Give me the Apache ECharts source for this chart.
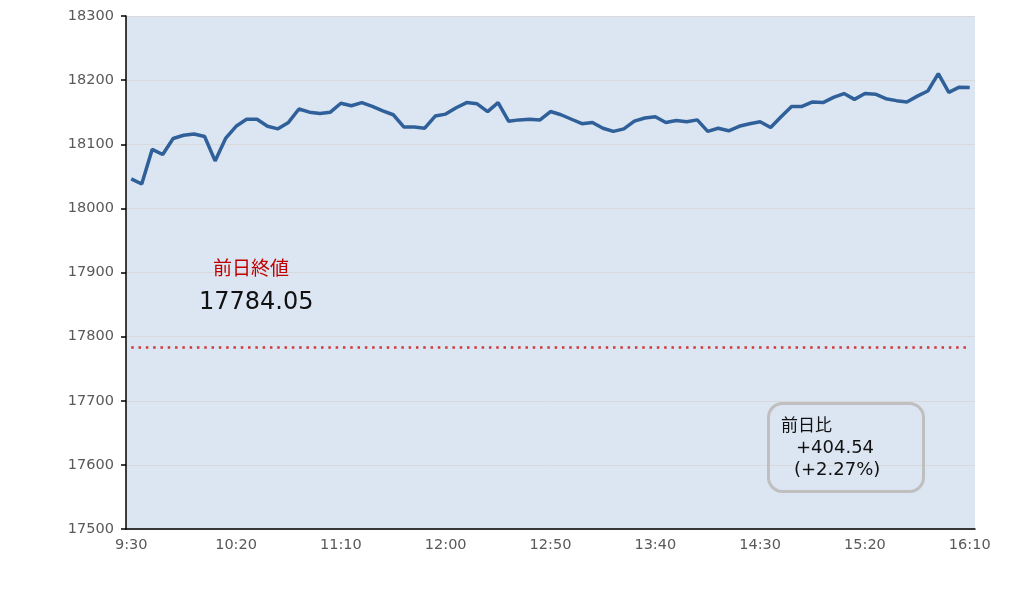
<!DOCTYPE html>
<html>
<head>
<meta charset="utf-8">
<script src="https://cdn.jsdelivr.net/npm/echarts@6/dist/echarts.min.js"></script>
<style>html,body{margin:0;padding:0;background:#fff;}#c{width:1036px;height:598px;}</style>
</head>
<body>
<div id="c"></div>
<script>
// 9:30 .. 16:10 every 5 minutes
var times = [];
for (var m = 9 * 60 + 30; m <= 16 * 60 + 10; m += 5) {
  times.push(Math.floor(m / 60) + ':' + ('0' + (m % 60)).slice(-2));
}
var prices = [
  18046, 18038, 18092, 18084, 18109, 18114, 18116, 18112, 18074, 18109,
  18128, 18139, 18139, 18128, 18124, 18134, 18155, 18150, 18148, 18150,
  18164, 18160, 18165, 18159, 18152, 18146, 18127, 18127, 18125, 18144,
  18147, 18157, 18165, 18163, 18151, 18165, 18136, 18138, 18139, 18138,
  18151, 18146, 18139, 18132, 18134, 18125, 18120, 18124, 18136, 18141,
  18143, 18134, 18137, 18135, 18138, 18120, 18125, 18121, 18128, 18132,
  18135, 18126, 18143, 18159, 18159, 18166, 18165, 18173, 18179, 18170,
  18179, 18178, 18171, 18168, 18166, 18175, 18183, 18210, 18181, 18189,
  18188.59
];
var prevClose = 17784.05;
var yTicks = [17500, 17600, 17700, 17800, 17900, 18000, 18100, 18200, 18300];
var change = '+404.54';
var changePct = '(+2.27%)';

var chart = echarts.init(document.getElementById('c'));
chart.setOption({
  animation: false,
  grid: { left: 126, right: 61, top: 16, bottom: 69, show: true, backgroundColor: '#dce6f2', borderWidth: 0 },
  xAxis: {
    type: 'category',
    data: times,
    boundaryGap: true,
    axisLine: { lineStyle: { color: '#000', width: 1.5 } },
    axisTick: { inside: true, length: 4, lineStyle: { color: '#000', width: 1.5 },
      interval: function (i) { return i % 10 === 5 || i === 80; } },
    axisLabel: { interval: 9, color: '#595959', fontSize: 14.5, fontFamily: 'DejaVu Sans', margin: 9 },
    splitLine: { show: false }
  },
  yAxis: {
    type: 'value',
    min: yTicks[0], max: yTicks[yTicks.length - 1], interval: 100,
    axisLine: { show: true, lineStyle: { color: '#000', width: 1.5 } },
    axisTick: { show: true, length: 5, lineStyle: { color: '#000', width: 1.5 } },
    axisLabel: { color: '#595959', fontSize: 14.5, fontFamily: 'DejaVu Sans', margin: 12,
      formatter: function (v) { return String(v); } },
    splitLine: { lineStyle: { color: '#d9d9d9', width: 1 } }
  },
  series: [{
    type: 'line',
    data: prices,
    symbol: 'none',
    lineStyle: { color: '#30609a', width: 3.5 },
    z: 3,
    markLine: {
      silent: true,
      symbol: 'none',
      label: { show: false },
      lineStyle: { color: '#d0393b', width: 2.5, type: [2.5, 4.8] },
      data: [[{ coord: [times[0], prevClose] }, { coord: [times[times.length - 1], prevClose] }]]
    }
  }],
  graphic: [
    { type: 'text', z: 100, left: 213, top: 258, style: { text: '前日終値', fill: '#c00000', font: '19px "Noto Sans CJK JP"' } },
    { type: 'text', z: 100, left: 199, top: 291, style: { text: prevClose.toFixed(2), fill: '#111', font: '24px "DejaVu Sans"' } },
    { type: 'rect', z: 100, left: 767, top: 402, shape: { width: 155, height: 88, r: 14 },
      style: { fill: 'transparent', stroke: '#bfbfbf', lineWidth: 3 } },
    { type: 'text', z: 100, left: 781, top: 416, style: { text: '前日比', fill: '#111', font: '17px "Noto Sans CJK JP"' } },
    { type: 'text', z: 100, left: 796, top: 439, style: { text: change, fill: '#111', font: '18px "DejaVu Sans"' } },
    { type: 'text', z: 100, left: 794, top: 461, style: { text: changePct, fill: '#111', font: '18px "DejaVu Sans"' } }
  ]
});
</script>
</body>
</html>
